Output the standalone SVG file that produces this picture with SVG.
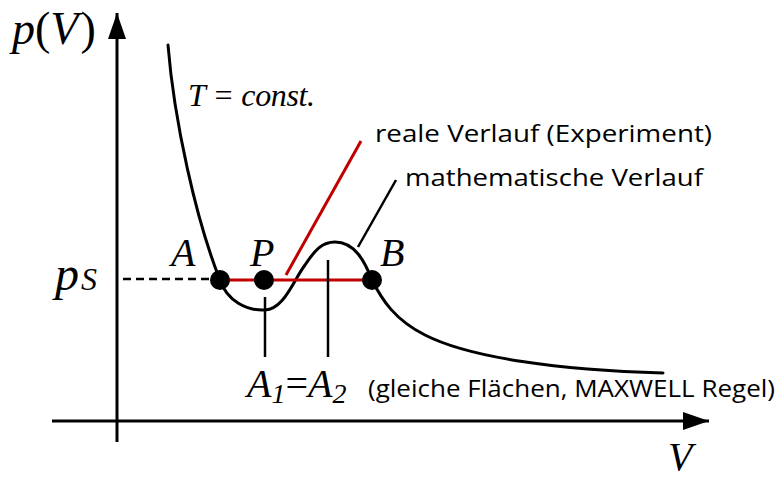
<svg xmlns="http://www.w3.org/2000/svg" width="780" height="480" viewBox="0 0 780 480">
<style>
.ax{stroke:#000;stroke-width:3;fill:none}
.cv{stroke:#000;stroke-width:3;fill:none;stroke-linecap:round}
.red{stroke:#c00000;stroke-width:3;fill:none}
.ld{stroke:#000;stroke-width:2.5;fill:none}
.m{font-family:"Liberation Serif","Times New Roman",serif;font-style:italic;fill:#000}
.up{font-style:normal}
.s{font-family:"Open Sans","Liberation Sans",Arial,sans-serif;fill:#000}
.dot{fill:#000}
</style>
<defs>
<marker id="arr" viewBox="0 0 26 18" refX="26" refY="9" markerWidth="26" markerHeight="18" markerUnits="userSpaceOnUse" orient="auto">
<path d="M0,0 L26,9 L0,18 Z" fill="#000"/>
</marker>
</defs>
<g id="axes">
<line class="ax" x1="117" y1="442" x2="117" y2="13" marker-end="url(#arr)"/>
<line class="ax" x1="52" y1="421" x2="709" y2="421" marker-end="url(#arr)"/>
</g>
<g id="connectors">
<line x1="123" y1="279" x2="214" y2="279" stroke="#000" stroke-width="2.5" stroke-dasharray="8,5"/>
<path id="isotherm" class="cv" d="M168,45 C174,120 196,220 220,280 C227,301 247,311 265,310 C284,309 293,281 305,265 C315,250 322,242 335,242 C355,242 365,262 372,280 C382,300 395,320 425,335 C470,358 560,370 663,373"/>
<line class="red" x1="220" y1="280" x2="372" y2="280"/>
<line class="red" x1="286" y1="275" x2="361" y2="141"/>
<line class="ld" x1="358" y1="247" x2="396" y2="180"/>
<line class="ld" x1="265" y1="297" x2="265" y2="357"/>
<line class="ld" x1="328" y1="260" x2="328" y2="357"/>
</g>
<g id="A"><circle class="dot" cx="220" cy="280" r="10"/><text class="m" x="171" y="266" font-size="40">A</text></g>
<g id="P"><circle class="dot" cx="264" cy="280" r="10"/><text class="m" x="250" y="266" font-size="40">P</text></g>
<g id="B"><circle class="dot" cx="372" cy="280" r="10"/><text class="m" x="380" y="266" font-size="40">B</text></g>
<g id="labels">
<text class="m" x="12" y="44" font-size="46">p<tspan class="up">(</tspan>V<tspan class="up" dx="2">)</tspan></text>
<text class="m" x="55" y="290" font-size="48">p<tspan font-size="32" dx="2">S</tspan></text>
<text class="m" x="188" y="106" font-size="32" textLength="127" lengthAdjust="spacing">T = const.</text>
<text class="s" x="375" y="142" font-size="23" textLength="337" lengthAdjust="spacingAndGlyphs">reale Verlauf (Experiment)</text>
<text class="s" x="405" y="186" font-size="23" textLength="298" lengthAdjust="spacingAndGlyphs">mathematische Verlauf</text>
<text class="m" x="247" y="397" font-size="40">A<tspan font-size="28" dy="6">1</tspan><tspan class="up" dy="-6">=</tspan>A<tspan font-size="28" dy="6">2</tspan></text>
<text class="s" x="368" y="397" font-size="23" textLength="407" lengthAdjust="spacingAndGlyphs">(gleiche Flächen, MAXWELL Regel)</text>
<text class="m" x="668" y="470" font-size="40">V</text>
</g>
</svg>
